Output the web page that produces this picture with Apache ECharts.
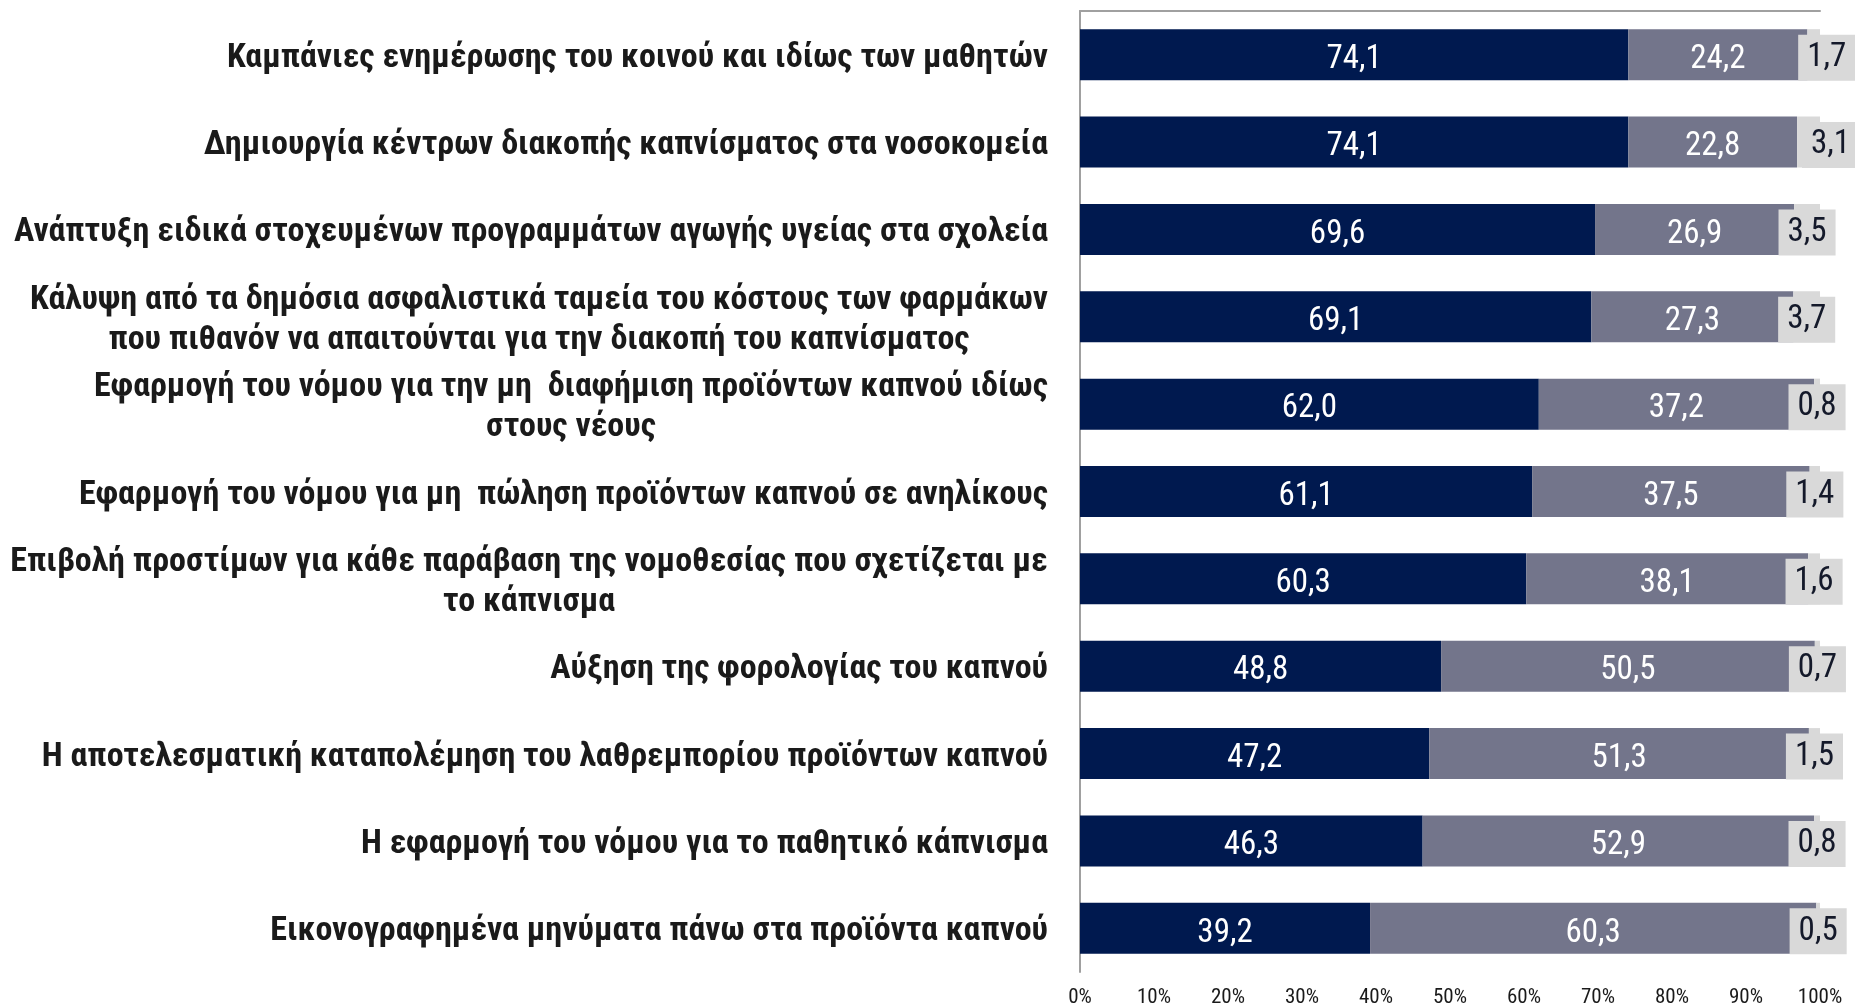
<!DOCTYPE html>
<html>
<head>
<meta charset="utf-8">
<script src="https://cdn.jsdelivr.net/npm/echarts@6/dist/echarts.min.js"></script>
<style>
html, body { margin: 0; padding: 0; background: #fff; }
#chart { width: 1855px; height: 1006px; }
</style>
</head>
<body>
<div id="chart"></div>
<script>
// κατηγορίες (από πάνω προς τα κάτω)
var categories = [
    'Καμπάνιες ενημέρωσης του κοινού και ιδίως των μαθητών',
    'Δημιουργία κέντρων διακοπής καπνίσματος στα νοσοκομεία',
    'Ανάπτυξη ειδικά στοχευμένων προγραμμάτων αγωγής υγείας στα σχολεία',
    'Κάλυψη από τα δημόσια ασφαλιστικά ταμεία του κόστους των φαρμάκων\nπου πιθανόν να απαιτούνται για την διακοπή του καπνίσματος',
    'Εφαρμογή του νόμου για την μη  διαφήμιση προϊόντων καπνού ιδίως\nστους νέους',
    'Εφαρμογή του νόμου για μη  πώληση προϊόντων καπνού σε ανηλίκους',
    'Επιβολή προστίμων για κάθε παράβαση της νομοθεσίας που σχετίζεται με\nτο κάπνισμα',
    'Αύξηση της φορολογίας του καπνού',
    'Η αποτελεσματική καταπολέμηση του λαθρεμπορίου προϊόντων καπνού',
    'Η εφαρμογή του νόμου για το παθητικό κάπνισμα',
    'Εικονογραφημένα μηνύματα πάνω στα προϊόντα καπνού'
];
var part1 = [74.1, 74.1, 69.6, 69.1, 62.0, 61.1, 60.3, 48.8, 47.2, 46.3, 39.2];
var part2 = [24.2, 22.8, 26.9, 27.3, 37.2, 37.5, 38.1, 50.5, 51.3, 52.9, 60.3];
var part3 = [1.7, 3.1, 3.5, 3.7, 0.8, 1.4, 1.6, 0.7, 1.5, 0.8, 0.5];

var condFont = '"Roboto Condensed", Roboto, sans-serif';
var catSize = 34;

// μέτρηση για κεντράρισμα γραμμών μέσα στο μπλοκ
var cv = document.createElement('canvas').getContext('2d');
function textWidth(t) {
    cv.font = 'bold ' + catSize + 'px ' + condFont;
    return Math.ceil(cv.measureText(t).width);
}
function catLabel(value) {
    var lines = value.split('\n');
    if (lines.length === 1) return value;
    var maxW = Math.max.apply(null, lines.map(textWidth));
    return lines.map(function (l) { return '{c' + maxW + '|' + l + '}'; }).join('\n');
}
var rich = {};
categories.forEach(function (c) {
    var lines = c.split('\n');
    if (lines.length > 1) {
        var maxW = Math.max.apply(null, lines.map(textWidth));
        rich['c' + maxW] = { width: maxW, align: 'center', fontFamily: condFont, fontWeight: 'bold', fontSize: catSize, lineHeight: 40, color: '#1a1a1a' };
    }
});

function fmt(v) {
    return v.toFixed(1).replace('.', ',');
}

var myChart = echarts.init(document.getElementById('chart'));
var option = {
    backgroundColor: '#fff',
    animation: false,
    grid: { left: 1080, width: 740, top: 11, height: 961, containLabel: false, outerBoundsMode: 'none' },
    xAxis: [{
        type: 'value', min: 0, max: 100, interval: 10,
        axisLine: { show: false },
        axisTick: { show: false },
        splitLine: { show: false },
        axisLabel: {
            formatter: '{value}%',
            fontFamily: condFont,
            fontSize: 21,
            color: '#1a1a1a',
            margin: 15
        }
    }, {
        type: 'value', min: 0, max: 100, position: 'top',
        axisLine: { show: true, lineStyle: { color: '#a0a0a0', width: 2 } },
        axisTick: { show: false },
        splitLine: { show: false },
        axisLabel: { show: false }
    }],
    yAxis: {
        type: 'category',
        inverse: true,
        data: categories,
        axisLine: { show: true, lineStyle: { color: '#a0a0a0', width: 2 } },
        axisTick: { show: false },
        axisLabel: {
            formatter: catLabel,
            rich: rich,
            fontFamily: condFont,
            fontWeight: 'bold',
            fontSize: catSize,
            lineHeight: 40,
            color: '#1a1a1a',
            padding: [7, 0, 0, 0],
            margin: 32
        }
    },
    series: [{
        type: 'bar', stack: 'a', barWidth: 51,
        data: part1,
        itemStyle: { color: '#00194f' },
        label: {
            show: true, position: 'inside', offset: [0, 5],
            formatter: function (p) { return fmt(p.value); },
            fontFamily: condFont, fontSize: 33, color: '#fff'
        }
    }, {
        type: 'bar', stack: 'a', barWidth: 51,
        data: part2,
        itemStyle: { color: '#73758b' },
        label: {
            show: true, position: 'inside', offset: [0, 5],
            formatter: function (p) { return fmt(p.value); },
            fontFamily: condFont, fontSize: 33, color: '#fff'
        }
    }, {
        type: 'bar', stack: 'a', barWidth: 51,
        data: part3.map(function (v, i) {
            // οι δύο πρώτες ετικέτες είναι μετατοπισμένες δεξιά στο πρωτότυπο
            var shift = i === 0 ? 13 : (i === 1 ? 22 : 0);
            return { value: v, label: { offset: [shift, 3] } };
        }),
        itemStyle: { color: '#d9d9d9' },
        label: {
            show: true, position: 'inside',
            formatter: function (p) { return fmt(p.value); },
            fontFamily: condFont, fontSize: 33, color: '#14192a',
            backgroundColor: '#d9d9d9',
            lineHeight: 34,
            padding: [11, 9, 1, 9]
        }
    }]
};
myChart.setOption(option);
</script>
</body>
</html>
